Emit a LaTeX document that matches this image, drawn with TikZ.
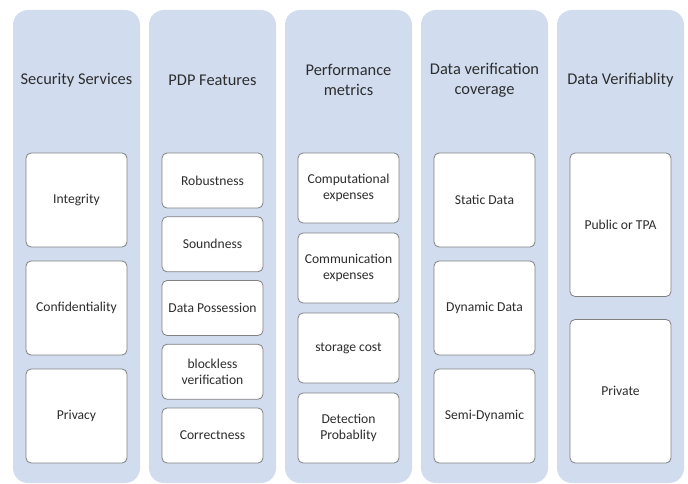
\documentclass[tikz,border=0pt]{standalone}
\usepackage{fontspec}
\setmainfont{Carlito}
\usepackage{tikz}
\definecolor{panelblue}{RGB}{209, 221, 239}
\definecolor{boxgray}{RGB}{128, 128, 128}
\definecolor{textgray}{RGB}{45, 45, 45}

\begin{document}
\begin{tikzpicture}[x=1pt, y=-1pt,
    panel/.style={fill=panelblue, rounded corners=15pt, minimum width=127pt, minimum height=473pt, inner sep=0pt},
    heading/.style={font=\fontsize{16.4}{20}\selectfont, text=textgray, align=center},
    item/.style={draw=boxgray, fill=white, rounded corners=5pt, line width=0.8pt, minimum width=101pt,
      inner sep=0pt, align=center, font=\fontsize{13.6}{16}\selectfont, text=textgray}]
  \useasboundingbox (0,0) rectangle (688,484);

  % --- Security services ---
  \node[panel] (security) at (76.5,246.5) {};
  \node[heading] (securityhead) at (76.5,80) {Security Services};
  \foreach \txt [count=\i from 0] in {Integrity, Confidentiality, Privacy}{
    \node[item, minimum height=94pt] (security\i) at (76.5,200+\i*108) {\txt};
  }

  % --- PDP features ---
  \node[panel] (pdp) at (212.5,246.5) {};
  \node[heading] (pdphead) at (212.5,80) {PDP Features};
  \foreach \txt [count=\i from 0] in {Robustness, Soundness, Data Possession, {blockless\\verification}, Correctness}{
    \node[item, minimum height=55pt] (pdp\i) at (212.5,180.5+\i*63.75) {\txt};
  }

  % --- Performance metrics ---
  \node[panel] (metric) at (348.5,246.5) {};
  \node[heading] (metrichead) at (348.5,80) {Performance\\metrics};
  \foreach \txt [count=\i from 0] in {{Computational\\expenses}, {Communication\\expenses}, storage cost, {Detection\\Probablity}}{
    \node[item, minimum height=70pt] (metric\i) at (348.5,188+\i*80) {\txt};
  }

  % --- Data verification coverage ---
  \node[panel] (coverage) at (484.5,246.5) {};
  \node[heading] (coveragehead) at (484.5,80) {Data verification\\coverage};
  \foreach \txt [count=\i from 0] in {Static Data, Dynamic Data, Semi-Dynamic}{
    \node[item, minimum height=94pt] (coverage\i) at (484.5,200+\i*108) {\txt};
  }

  % --- Data verifiability ---
  \node[panel] (verif) at (620.5,246.5) {};
  \node[heading] (verifhead) at (620.5,80) {Data Verifiablity};
  \foreach \txt [count=\i from 0] in {Public or TPA, Private}{
    \node[item, minimum height=143.5pt] (verif\i) at (620.5,224.75+\i*166.5) {\txt};
  }
\end{tikzpicture}
\end{document}
